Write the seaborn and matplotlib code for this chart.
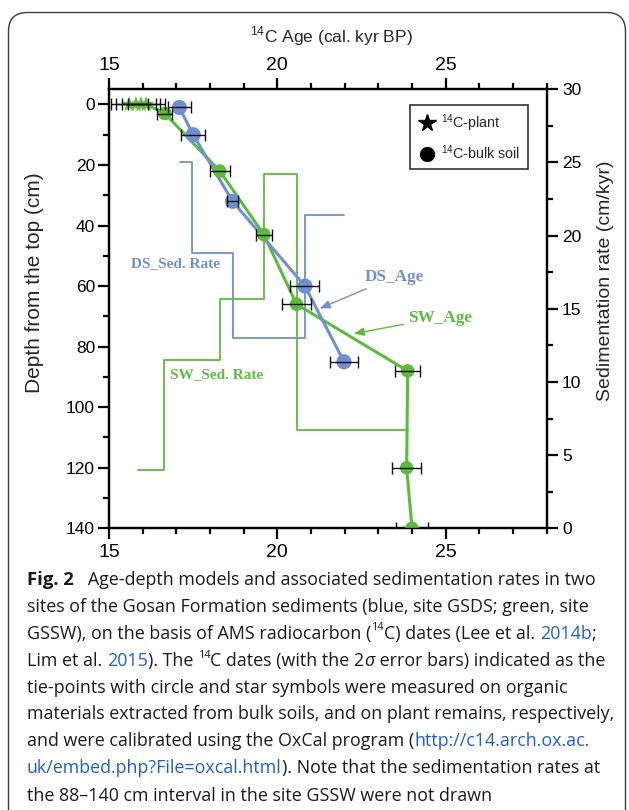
import matplotlib
matplotlib.use("Agg")
import matplotlib.pyplot as plt
from matplotlib.lines import Line2D
from matplotlib.patches import FancyBboxPatch
from matplotlib.ticker import MultipleLocator
import seaborn as sns
import pandas as pd

# ---- radiocarbon tie-points: site GSDS (blue) ----
ds_age = [17.09, 17.50, 18.67, 20.82, 21.98]
ds_depth = [1, 10, 32, 60, 85]
ds_err = [0.35, 0.36, 0.17, 0.43, 0.42]

# ---- radiocarbon tie-points: site GSSW (green), plant remains (stars) ----
sw_star_age = [15.60, 15.80, 15.95, 16.10]
sw_star_depth = [0, 0, 0, 0]
sw_star_err = [0.55, 0.60, 0.55, 0.55]

# ---- site GSSW bulk soil (circles) ----
sw_age = [16.66, 18.29, 19.60, 20.57, 23.87, 23.84, 24.00]
sw_depth = [3, 22, 43, 66, 88, 120, 140]
sw_err = [0.22, 0.29, 0.24, 0.44, 0.38, 0.43, 0.47]

# ---- sedimentation rates (cm/kyr) between successive tie-point ages ----
ds_rate_edges = [17.10, 17.48, 18.67, 20.82, 21.98]
ds_rate = [25.0, 18.8, 13.0, 21.4]
sw_rate_edges = [15.87, 16.63, 18.29, 19.60, 20.57, 23.87]
sw_rate = [4.0, 11.5, 15.7, 24.2, 6.7]

BLUE = "#6f8fd0"
GREEN = "#5cbb3b"
LINK = "#1f5fc9"

sns.set_theme(style="ticks")
plt.rcParams["font.family"] = ["Liberation Sans", "DejaVu Sans"]
plt.rcParams["mathtext.fontset"] = "custom"
plt.rcParams["mathtext.rm"] = "Liberation Sans"

W, H, DPI = 629, 810, 100
fig = plt.figure(figsize=(W / DPI, H / DPI), dpi=DPI)

# outer rounded frame (open at the bottom)
frame = FancyBboxPatch((8.5 / W, -0.05), (617 / W), 1.05 - 12.5 / H,
                       boxstyle="round,pad=0,rounding_size=0.03",
                       transform=fig.transFigure, fill=False,
                       ec="#3a3a3a", lw=1.0, mutation_aspect=W / H)
fig.patches.append(frame)

ax_l, ax_r, ax_t, ax_b = 109, 546.7, 89.3, 528.3
ax = fig.add_axes([ax_l / W, 1 - ax_b / H, (ax_r - ax_l) / W, (ax_b - ax_t) / H])
ax2 = ax.twinx()
ax.set_zorder(ax2.get_zorder() + 1)
ax.patch.set_visible(False)

# sedimentation-rate step curves on the right axis
df_ds_rate = pd.DataFrame({"age": ds_rate_edges, "rate": ds_rate + ds_rate[-1:]})
df_sw_rate = pd.DataFrame({"age": sw_rate_edges, "rate": sw_rate + sw_rate[-1:]})
sns.lineplot(data=df_ds_rate, x="age", y="rate", ax=ax2, color=BLUE, lw=1.3,
             drawstyle="steps-post", sort=False, estimator=None)
sns.lineplot(data=df_sw_rate, x="age", y="rate", ax=ax2, color=GREEN, lw=1.3,
             drawstyle="steps-post", sort=False, estimator=None)
ax2.set_ylim(0, 30)
ax2.set_ylabel("")

# age-depth model lines
df_sw_line = pd.DataFrame({"age": sw_star_age + sw_age,
                           "depth": sw_star_depth + sw_depth})
df_ds_line = pd.DataFrame({"age": ds_age, "depth": ds_depth})
sns.lineplot(data=df_sw_line, x="age", y="depth", ax=ax, color=GREEN, lw=2.2,
             sort=False, estimator=None, zorder=3)
sns.lineplot(data=df_ds_line, x="age", y="depth", ax=ax, color=BLUE, lw=2.2,
             sort=False, estimator=None, zorder=3)

# tie-point markers
sns.scatterplot(x=ds_age, y=ds_depth, ax=ax, color=BLUE, s=120, marker="o",
                edgecolor="none", zorder=4)
sns.scatterplot(x=sw_age, y=sw_depth, ax=ax, color=GREEN, s=95, marker="o",
                edgecolor="none", zorder=4)
sns.scatterplot(x=sw_star_age, y=sw_star_depth, ax=ax, color=GREEN, s=150,
                marker="*", edgecolor="none", zorder=4)

# 2-sigma error bars
for a, d, e in [(ds_age, ds_depth, ds_err), (sw_age, sw_depth, sw_err),
                (sw_star_age, sw_star_depth, sw_star_err)]:
    ax.errorbar(a, d, xerr=e, fmt="none", ecolor="#111111", elinewidth=1.0,
                capsize=4.5, capthick=1.0, zorder=5)

ax.set_xlim(15, 28)
ax.set_ylim(140, -5)
ax.xaxis.set_major_locator(MultipleLocator(5))
ax.xaxis.set_minor_locator(MultipleLocator(1))
ax.yaxis.set_minor_locator(MultipleLocator(10))
ax.set_yticks([0, 20, 40, 60, 80, 100, 120, 140])
ax2.yaxis.set_major_locator(MultipleLocator(5))
ax2.yaxis.set_minor_locator(MultipleLocator(2.5))

for a in (ax, ax2):
    for s in a.spines.values():
        s.set_linewidth(1.6)
        s.set_color("black")
        s.set_visible(True)
    a.tick_params(which="major", direction="out", length=8, width=1.6,
                  colors="black", labelsize=12.5, pad=2)
    a.tick_params(which="minor", direction="out", length=4.5, width=1.6,
                  colors="black")

ax.tick_params(axis="x", which="both", top=True, labeltop=True, bottom=True,
               labelbottom=True)
ax.tick_params(axis="x", which="major", labelsize=14, pad=3)
ax2.tick_params(axis="y", which="major", labelsize=12.5, pad=3)

ax.set_xlabel("")
ax.set_ylabel("Depth from the top (cm)", fontsize=15)
ax.yaxis.set_label_coords(-0.148, 0.56)
fig.text((ax_l + ax_r) / 2 / W + 0.005, 1 - 36 / H, r"$^{14}$C Age (cal. kyr BP)",
         ha="center", va="center", fontsize=12.5)
ax2.set_ylabel("Sedimentation rate (cm/kyr)", fontsize=14, rotation=90)
ax2.yaxis.set_label_coords(1.115, 0.565)

# curve labels
serif_b = dict(family=["Liberation Serif", "DejaVu Serif"], weight="bold")
ax.text(16.97, 52.5, "DS_Sed. Rate", color=BLUE, ha="center", va="center",
        fontsize=11, **serif_b)
ax.text(18.21, 89.1, "SW_Sed. Rate", color=GREEN, ha="center", va="center",
        fontsize=11, **serif_b)
ax.annotate("DS_Age", xy=(21.26, 67.4), xytext=(22.58, 57.0), color=BLUE,
            ha="left", va="center", fontsize=12.3, **serif_b,
            arrowprops=dict(arrowstyle="-|>,head_length=0.5,head_width=0.2",
                            color=BLUE, lw=1.0, shrinkA=1, shrinkB=0))
ax.annotate("SW_Age", xy=(22.27, 75.7), xytext=(23.88, 70.4), color=GREEN,
            ha="left", va="center", fontsize=12.3, **serif_b,
            arrowprops=dict(arrowstyle="-|>,head_length=0.5,head_width=0.2",
                            color=GREEN, lw=1.0, shrinkA=1, shrinkB=0))

# legend for symbol types
handles = [Line2D([], [], ls="none", marker="*", color="black", markersize=13),
           Line2D([], [], ls="none", marker="o", color="black", markersize=10)]
leg = ax.legend(handles, [r"$^{14}$C-plant", r"$^{14}$C-bulk soil"],
                loc="upper right", bbox_to_anchor=(0.957, 0.964), fontsize=10.3,
                frameon=True, fancybox=False, edgecolor="black",
                handletextpad=0.3, borderpad=0.5, labelspacing=0.65,
                handlelength=1.4, borderaxespad=0)
leg.get_frame().set_linewidth(1.2)

# ---- figure caption ----
renderer = fig.canvas.get_renderer()
CAP = ["Open Sans", "DejaVu Sans"]
CAP_SIZE = 12.9


def text_width(s, **kw):
    t = fig.text(0, 0, s, **kw)
    w = t.get_window_extent(renderer).width
    t.remove()
    return w


def caption_line(y_px, parts, x_px=27):
    x = x_px
    for s, kw in parts:
        style = dict(family=CAP, fontsize=CAP_SIZE, color="#1a1a1a")
        dy = 0
        if kw.get("sup"):
            style["fontsize"] = CAP_SIZE * 0.62
            dy = 6
        for k in ("color", "weight", "style", "fontsize"):
            if k in kw:
                style[k] = kw[k]
        fig.text(x / W, 1 - (y_px - dy) / H, s, ha="left", va="center", **style)
        x += text_width(s + "|", **style) - text_width("|", **style)


N = {}
caption_line(580, [("Fig. 2", dict(weight="bold", fontsize=CAP_SIZE * 1.03)),
                   ("   Age-depth models and associated sedimentation rates in two", N)])
caption_line(607, [("sites of the Gosan Formation sediments (blue, site GSDS; green, site", N)])
caption_line(634, [("GSSW), on the basis of AMS radiocarbon (", N), ("14", dict(sup=True)),
                   ("C) dates (Lee et al. ", N), ("2014b", dict(color=LINK)), (";", N)])
caption_line(661, [("Lim et al. ", N), ("2015", dict(color=LINK)), ("). The ", N),
                   ("14", dict(sup=True)), ("C dates (with the 2", N),
                   ("σ", dict(style="italic")), (" error bars) indicated as the", N)])
caption_line(688, [("tie-points with circle and star symbols were measured on organic", N)])
caption_line(714, [("materials extracted from bulk soils, and on plant remains, respectively,", N)])
caption_line(741, [("and were calibrated using the OxCal program (", N),
                   ("http://c14.arch.ox.ac.", dict(color=LINK))])
caption_line(768, [("uk/embed.php?File=oxcal.html", dict(color=LINK)),
                   ("). Note that the sedimentation rates at", N)])
caption_line(796, [("the 88\u2013140 cm interval in the site GSSW were not drawn", N)])

fig.savefig("out.png", dpi=DPI)
